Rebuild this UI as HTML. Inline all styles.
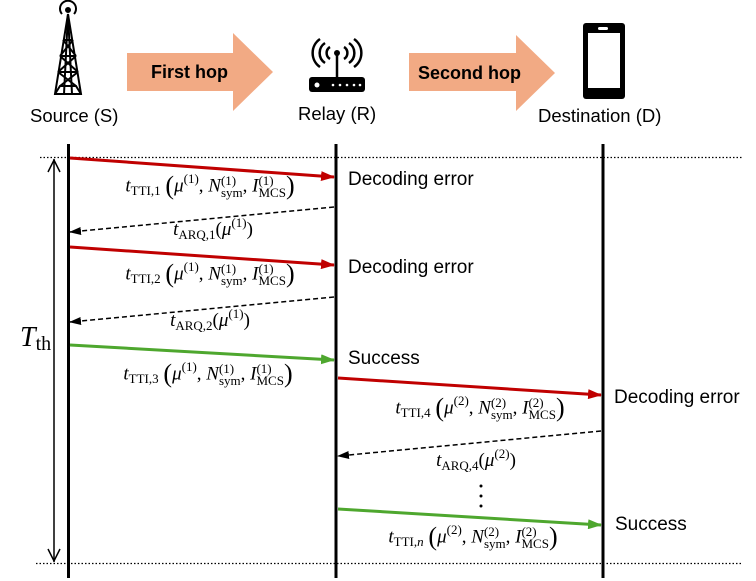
<!DOCTYPE html>
<html><head><meta charset="utf-8"><style>
body{margin:0;width:756px;height:581px;background:#fff;position:relative;overflow:hidden;font-family:"Liberation Sans",sans-serif}
.t{position:absolute;white-space:nowrap}
.m{position:absolute;white-space:nowrap;font-family:"Liberation Serif",serif;font-size:19px;transform:translateX(-50%);line-height:1}
.m i{font-style:italic}
.m .s{font-size:13px;position:relative;top:4px}
.m .ss{display:inline-block;vertical-align:middle;font-size:13px;line-height:12px;text-align:left}
.m .p{font-size:26px;vertical-align:middle;position:relative;top:-1px}
.m .up{font-size:13px;position:relative;top:-8px}
</style></head><body>
<svg width="756" height="581" style="position:absolute;left:0;top:0">
<defs>
<marker id="ar" markerWidth="14" markerHeight="10" refX="13" refY="5" orient="auto" markerUnits="userSpaceOnUse"><path d="M0,0L14,5L0,10z" fill="#c00000"/></marker>
<marker id="ag" markerWidth="14" markerHeight="10" refX="13" refY="5" orient="auto" markerUnits="userSpaceOnUse"><path d="M0,0L14,5L0,10z" fill="#4ea72e"/></marker>
<marker id="ak" markerWidth="12" markerHeight="8" refX="11" refY="4" orient="auto" markerUnits="userSpaceOnUse"><path d="M0,0L12,4L0,8z" fill="#000"/></marker>
</defs>
<!-- tower -->
<g stroke="#000" stroke-width="2" fill="none">
<path d="M62,14 a8,8 0 1 1 12,0"/>
<circle cx="68" cy="10" r="2" fill="#000"/>
<path d="M68,14 L55,94 L81,94 Z"/>
<path d="M68,14 L64,94 M68,14 L72,94"/>
<path d="M63,40 L73,40 M60,56 L76,56 M58,72 L78,72 M55,94 L60,86 L76,86 L81,94"/>
<path d="M63,40 L76,56 M73,40 L60,56 M60,56 L78,72 M76,56 L58,72 M58,72 L76,86 M78,72 L60,86"/>
</g>
<path d="M127,53 L233,53 L233,33 L273,72 L233,111 L233,91 L127,91 Z" fill="#f2aa84"/>
<path d="M409,53 L516,53 L516,35 L555,73 L516,111 L516,91 L409,91 Z" fill="#f2aa84"/>
<!-- relay -->
<g fill="none" stroke="#000" stroke-width="2.5">
<path d="M330,47 a7,7 0 0 0 0,12 M344,47 a7,7 0 0 1 0,12"/>
<path d="M325,43 a12,12 0 0 0 0,20 M349,43 a12,12 0 0 1 0,20"/>
<path d="M320,39 a17,17 0 0 0 0,28 M354,39 a17,17 0 0 1 0,28"/>
</g>
<line x1="337" y1="53" x2="337" y2="78" stroke="#000" stroke-width="2.5"/>
<circle cx="337" cy="53" r="3"/>
<rect x="309" y="77" width="56" height="15" rx="3" fill="#000"/>
<circle cx="317" cy="85" r="2.5" fill="#fff"/>
<g fill="#fff"><circle cx="333" cy="85" r="1.3"/><circle cx="340" cy="85" r="1.3"/><circle cx="347" cy="85" r="1.3"/><circle cx="354" cy="85" r="1.3"/><circle cx="360" cy="85" r="1.3"/></g>
<!-- phone -->
<rect x="583" y="23" width="42" height="76" rx="3" fill="#000"/>
<rect x="588" y="33" width="32" height="55" fill="#fff"/>
<rect x="598" y="27" width="10" height="3" rx="1.5" fill="#fff"/>
<line x1="40" y1="157.5" x2="742" y2="157.5" stroke="#000" stroke-width="1.2" stroke-dasharray="1.5,2"/>
<line x1="36" y1="563.5" x2="742" y2="563.5" stroke="#000" stroke-width="1.2" stroke-dasharray="1.5,2"/>
<line x1="68.5" y1="144" x2="68.5" y2="578" stroke="#000" stroke-width="3"/>
<line x1="336" y1="144" x2="336" y2="578" stroke="#000" stroke-width="3"/>
<line x1="603" y1="144" x2="603" y2="578" stroke="#000" stroke-width="3"/>
<line x1="54" y1="159" x2="54" y2="562" stroke="#000" stroke-width="1.5"/>
<path d="M48,172 L54,160 L60,172 M48,549 L54,561 L60,549" fill="none" stroke="#000" stroke-width="1.5"/>
<line x1="70" y1="158" x2="334" y2="177" stroke="#c00000" stroke-width="3" marker-end="url(#ar)"/>
<line x1="334" y1="207" x2="70" y2="232" stroke="#000" stroke-width="1.5" stroke-dasharray="5,3" marker-end="url(#ak)"/>
<line x1="70" y1="247" x2="334" y2="265" stroke="#c00000" stroke-width="3" marker-end="url(#ar)"/>
<line x1="334" y1="297" x2="70" y2="322" stroke="#000" stroke-width="1.5" stroke-dasharray="5,3" marker-end="url(#ak)"/>
<line x1="70" y1="345" x2="334" y2="360" stroke="#4ea72e" stroke-width="3" marker-end="url(#ag)"/>
<line x1="338" y1="378" x2="601" y2="395" stroke="#c00000" stroke-width="3" marker-end="url(#ar)"/>
<line x1="601" y1="431" x2="338" y2="456" stroke="#000" stroke-width="1.5" stroke-dasharray="5,3" marker-end="url(#ak)"/>
<line x1="338" y1="509" x2="601" y2="525" stroke="#4ea72e" stroke-width="3" marker-end="url(#ag)"/>
<g fill="#000"><circle cx="481" cy="486" r="1.5"/><circle cx="481" cy="496" r="1.5"/><circle cx="481" cy="506" r="1.5"/></g>
</svg>
<div class="t" style="left:30px;top:105px;font-size:18.5px">Source (S)</div>
<div class="t" style="left:298px;top:103px;font-size:18.5px">Relay (R)</div>
<div class="t" style="left:538px;top:105px;font-size:18.5px">Destination (D)</div>
<div class="t" style="left:151px;top:62px;font-size:18px;font-weight:bold">First hop</div>
<div class="t" style="left:418px;top:63px;font-size:18px;font-weight:bold">Second hop</div>
<div class="t" style="left:348px;top:169px;font-size:19px">Decoding error</div>
<div class="t" style="left:348px;top:257px;font-size:19px">Decoding error</div>
<div class="t" style="left:348px;top:348px;font-size:19px">Success</div>
<div class="t" style="left:614px;top:387px;font-size:19px">Decoding error</div>
<div class="t" style="left:615px;top:514px;font-size:19px">Success</div>
<div class="t" style="left:20px;top:322px;font-family:'Liberation Serif',serif;font-size:28px"><i>T</i><span style="font-size:20px;position:relative;top:4px">th</span></div>

<div class="m" style="left:210px;top:174px"><i>t</i><span class="s">TTI,1</span> <span class="p">(</span><i>μ</i><span class="up">(1)</span>, <i>N</i><span class="ss">(1)<br>sym</span>, <i>I</i><span class="ss">(1)<br>MCS</span><span class="p">)</span></div>
<div class="m" style="left:213px;top:220px"><i>t</i><span class="s">ARQ,1</span>(<i>μ</i><span class="up">(1)</span>)</div>
<div class="m" style="left:210px;top:262px"><i>t</i><span class="s">TTI,2</span> <span class="p">(</span><i>μ</i><span class="up">(1)</span>, <i>N</i><span class="ss">(1)<br>sym</span>, <i>I</i><span class="ss">(1)<br>MCS</span><span class="p">)</span></div>
<div class="m" style="left:210px;top:311px"><i>t</i><span class="s">ARQ,2</span>(<i>μ</i><span class="up">(1)</span>)</div>
<div class="m" style="left:208px;top:362px"><i>t</i><span class="s">TTI,3</span> <span class="p">(</span><i>μ</i><span class="up">(1)</span>, <i>N</i><span class="ss">(1)<br>sym</span>, <i>I</i><span class="ss">(1)<br>MCS</span><span class="p">)</span></div>
<div class="m" style="left:480px;top:396px"><i>t</i><span class="s">TTI,4</span> <span class="p">(</span><i>μ</i><span class="up">(2)</span>, <i>N</i><span class="ss">(2)<br>sym</span>, <i>I</i><span class="ss">(2)<br>MCS</span><span class="p">)</span></div>
<div class="m" style="left:476px;top:451px"><i>t</i><span class="s">ARQ,4</span>(<i>μ</i><span class="up">(2)</span>)</div>
<div class="m" style="left:473px;top:525px"><i>t</i><span class="s">TTI,<i>n</i></span> <span class="p">(</span><i>μ</i><span class="up">(2)</span>, <i>N</i><span class="ss">(2)<br>sym</span>, <i>I</i><span class="ss">(2)<br>MCS</span><span class="p">)</span></div>
</body></html>
